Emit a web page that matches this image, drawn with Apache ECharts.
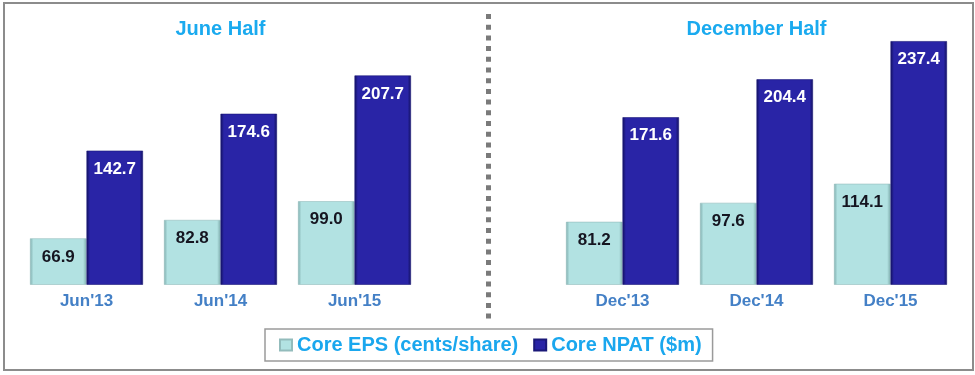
<!DOCTYPE html>
<html>
<head>
<meta charset="utf-8">
<script src="https://cdn.jsdelivr.net/npm/echarts@6/dist/echarts.min.js"></script>
<style>
html,body{margin:0;padding:0;background:#fff;}
#chart{width:975px;height:375px;}
</style>
</head>
<body>
<div id="chart"></div>
<script>
const categories = ["Jun'13", "Jun'14", "Jun'15", "", "Dec'13", "Dec'14", "Dec'15"];
const panelTitles = ["", "June Half", "", "", "", "December Half", ""];
const coreEPS = [66.9, 82.8, 99.0, null, 81.2, 97.6, 114.1];
const coreNPAT = [142.7, 174.6, 207.7, null, 171.6, 204.4, 237.4];
const seriesNames = ["Core EPS (cents/share)", "Core NPAT ($m)"];

const FONT = '"Liberation Sans", Arial, sans-serif';
const chart = echarts.init(document.getElementById('chart'), null, {renderer: 'canvas'});

function hGrad(edge, mid) {
  return new echarts.graphic.LinearGradient(0, 0, 1, 0, [
    {offset: 0, color: edge}, {offset: 0.06, color: mid},
    {offset: 0.94, color: mid}, {offset: 1, color: edge}
  ]);
}

const option = {
  animation: false,
  backgroundColor: '#fff',
  grid: {left: 19.5, right: 17.5, top: 15, bottom: 90.5, containLabel: false},
  legend: {
    left: 265, top: 329,
    padding: [6, 11, 6, 14],
    borderColor: '#9a9a9a', borderWidth: 1.5,
    itemWidth: 12, itemHeight: 11, itemGap: 15,
    icon: 'rect',
    textStyle: {color: '#1aa7ee', fontSize: 20, fontWeight: 'bold', fontFamily: FONT},
    data: seriesNames
  },
  xAxis: [{
    type: 'category', data: categories,
    axisLine: {show: false}, axisTick: {show: false},
    axisLabel: {color: '#4480c6', fontSize: 17, fontWeight: 'bold', fontFamily: FONT, margin: 8, interval: 0}
  }, {
    type: 'category', data: panelTitles, position: 'top',
    axisLine: {show: false}, axisTick: {show: false},
    axisLabel: {inside: true, margin: 4, color: '#1aaaef', fontSize: 20, fontWeight: 'bold', fontFamily: FONT, interval: 0}
  }],
  yAxis: {type: 'value', min: 27, max: 260, show: false, splitLine: {show: false}},
  series: [{
    name: seriesNames[0], type: 'bar', data: coreEPS,
    barGap: '0%', barCategoryGap: '15.7%',
    itemStyle: {color: hGrad('#7fadad', '#b2e2e2'), borderColor: '#93bcbc', borderWidth: 0.6},
    label: {
      show: true, position: 'insideTop', distance: 10,
      formatter: p => p.value.toFixed(1),
      color: '#151520', fontSize: 17, fontWeight: 'bold', fontFamily: FONT
    }
  }, {
    name: seriesNames[1], type: 'bar', data: coreNPAT,
    itemStyle: {color: hGrad('#12105e', '#2924a6'), borderColor: '#1a1878', borderWidth: 0.6},
    label: {
      show: true, position: 'insideTop', distance: 10,
      formatter: p => p.value.toFixed(1),
      color: '#ffffff', fontSize: 17, fontWeight: 'bold', fontFamily: FONT
    }
  }]
};
chart.setOption(option);

const divX = chart.convertToPixel({xAxisIndex: 0}, 3);
chart.setOption({
  graphic: [{
    type: 'rect', silent: true,
    shape: {x: 4, y: 3, width: 969, height: 367},
    style: {fill: 'none', stroke: '#8c8c8c', lineWidth: 2}
  }, {
    type: 'line', silent: true,
    shape: {x1: divX, y1: 14, x2: divX, y2: 319},
    style: {stroke: '#7a7a7a', lineWidth: 5, lineDash: [5, 5.7]}
  }]
});
</script>
</body>
</html>
